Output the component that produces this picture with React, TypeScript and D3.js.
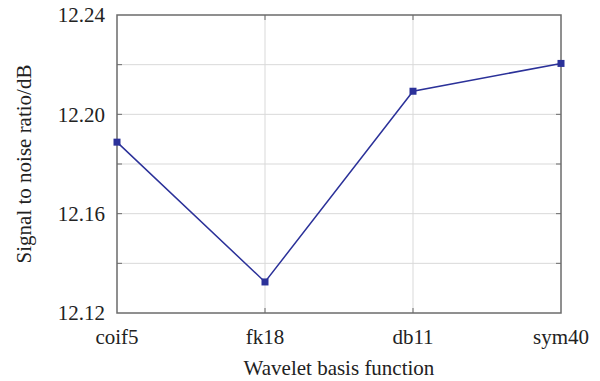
import React from 'react';
import * as d3 from 'd3';

const categories = ['coif5', 'fk18', 'db11', 'sym40'];
const snrValues = [12.1888, 12.1325, 12.2093, 12.2205];
const majorTicks = [12.12, 12.16, 12.2, 12.24];
const gridTicks = [12.14, 12.16, 12.18, 12.2, 12.22];

const width = 600;
const height = 381;
const margin = { top: 15, right: 39, bottom: 68, left: 117 };
const font = 'Liberation Serif, Times New Roman, Tinos, serif';
const lineColor = '#2b3199';
const frameColor = '#6b6b6b';
const gridColor = '#d9d9d9';
const textColor = '#222';

const App = () => {
  const x = d3.scalePoint<string>()
    .domain(categories)
    .range([margin.left, width - margin.right]);
  const y = d3.scaleLinear()
    .domain([12.12, 12.24])
    .range([height - margin.bottom, margin.top]);

  const line = d3.line<number>()
    .x((d, i) => x(categories[i])!)
    .y(d => y(d));

  const inner = categories.slice(1, -1);
  const tickLen = 5;
  const ms = 7;

  return (
    <div style={{ position: 'absolute', left: 0, top: 0, width, height, background: '#fff' }}>
      <svg width={width} height={height}>
        {/* grid */}
        {gridTicks.map(t => (
          <line key={'hg' + t} x1={margin.left} x2={width - margin.right} y1={y(t)} y2={y(t)} stroke={gridColor} />
        ))}
        {inner.map(c => (
          <line key={'vg' + c} x1={x(c)} x2={x(c)} y1={margin.top} y2={height - margin.bottom} stroke={gridColor} />
        ))}

        {/* inward ticks */}
        {gridTicks.map(t => (
          <g key={'yt' + t}>
            <line x1={margin.left} x2={margin.left + tickLen} y1={y(t)} y2={y(t)} stroke={frameColor} />
            <line x1={width - margin.right} x2={width - margin.right - tickLen} y1={y(t)} y2={y(t)} stroke={frameColor} />
          </g>
        ))}
        {inner.map(c => (
          <g key={'xt' + c}>
            <line x1={x(c)} x2={x(c)} y1={height - margin.bottom} y2={height - margin.bottom - tickLen} stroke={frameColor} />
            <line x1={x(c)} x2={x(c)} y1={margin.top} y2={margin.top + tickLen} stroke={frameColor} />
          </g>
        ))}

        {/* frame */}
        <rect
          x={margin.left}
          y={margin.top}
          width={width - margin.left - margin.right}
          height={height - margin.top - margin.bottom}
          fill="none"
          stroke={frameColor}
          strokeWidth={1.5}
        />

        {/* series */}
        <path d={line(snrValues) ?? ''} fill="none" stroke={lineColor} strokeWidth={1.5} />
        {snrValues.map((v, i) => (
          <rect key={'m' + i} x={x(categories[i])! - ms / 2} y={y(v) - ms / 2} width={ms} height={ms} fill={lineColor} />
        ))}

        {/* y tick labels */}
        {majorTicks.map(t => (
          <text key={'yl' + t} x={margin.left - 12} y={y(t)} dy="0.35em" textAnchor="end"
            fontFamily={font} fontSize={21} fill={textColor}>
            {t.toFixed(2)}
          </text>
        ))}

        {/* x tick labels */}
        {categories.map(c => (
          <text key={'xl' + c} x={x(c)} y={height - margin.bottom + 31} textAnchor="middle"
            fontFamily={font} fontSize={21} fill={textColor}>
            {c}
          </text>
        ))}

        {/* axis titles */}
        <text x={(margin.left + width - margin.right) / 2} y={height - 6} textAnchor="middle"
          fontFamily={font} fontSize={21} fill={textColor}>
          Wavelet basis function
        </text>
        <text
          transform={`translate(31,${(margin.top + height - margin.bottom) / 2}) rotate(-90)`}
          textAnchor="middle"
          fontFamily={font}
          fontSize={21}
          fill={textColor}
        >
          Signal to noise ratio/dB
        </text>
      </svg>
    </div>
  );
};

export default App;
